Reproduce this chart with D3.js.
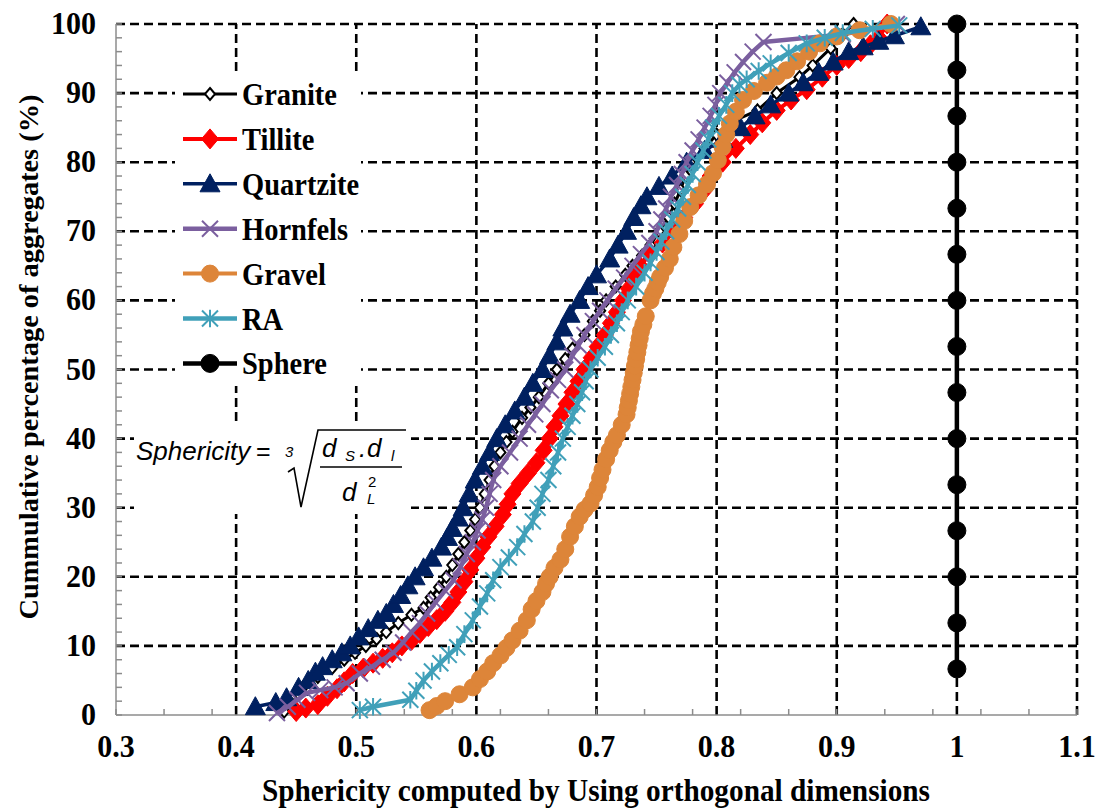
<!DOCTYPE html>
<html><head><meta charset="utf-8">
<script src="https://cdn.jsdelivr.net/npm/d3@7/dist/d3.min.js"></script>
<style>body{margin:0;background:#fff}svg{display:block}</style>
</head><body>
<svg id="c" width="1099" height="811"></svg>
<script>
// ---------------- DATA ----------------
const seriesNames = ["Granite","Tillite","Quartzite","Hornfels","Gravel","RA","Sphere"];

const granite = [[0.44,0.5],[0.447,1.5],[0.452,3],[0.458,4.5],[0.468,5.5],[0.48,6.8],[0.49,8],[0.499,9],[0.508,10],[0.517,11],[0.525,12],[0.535,13.3],[0.546,14.5],[0.556,15.5],[0.562,17],[0.569,18.5],[0.575,20],[0.58,21.7],[0.585,23.3],[0.59,25],[0.595,26.7],[0.599,28.3],[0.603,30],[0.607,32],[0.611,34],[0.615,36],[0.62,38],[0.625,39.5],[0.63,41],[0.638,43],[0.645,44.5],[0.652,46],[0.66,48],[0.667,50],[0.674,51.5],[0.68,53],[0.69,55],[0.697,57],[0.703,58.5],[0.708,60],[0.716,62],[0.724,63.7],[0.73,65],[0.738,66.5],[0.745,68],[0.752,70],[0.76,72],[0.765,74],[0.77,76],[0.774,78],[0.778,80],[0.79,82],[0.8,84],[0.815,86],[0.834,87.5],[0.85,90],[0.869,92.3],[0.88,94],[0.895,96.5],[0.905,98.5],[0.914,100]];

const tillite = [[0.45,0.5],[0.458,1],[0.468,1.5],[0.476,2.7],[0.484,3.8],[0.49,4.8],[0.497,6],[0.506,6.8],[0.514,7.5],[0.522,8.2],[0.53,9],[0.538,10],[0.546,10.8],[0.553,11.8],[0.56,12.8],[0.567,13.8],[0.574,15],[0.58,16.3],[0.585,17.8],[0.59,19.3],[0.595,21],[0.6,22.7],[0.605,24.3],[0.61,25.8],[0.616,27.3],[0.622,29],[0.626,30.5],[0.63,32],[0.636,33.5],[0.643,35],[0.65,36.5],[0.656,38.3],[0.661,40],[0.665,41.7],[0.67,43.3],[0.675,45],[0.68,46.7],[0.685,48.3],[0.69,50],[0.696,51.7],[0.701,53.3],[0.707,55],[0.712,56.7],[0.717,58.3],[0.722,60],[0.727,61.7],[0.731,63.3],[0.736,65],[0.745,66.7],[0.755,68.3],[0.765,70],[0.773,72],[0.782,74],[0.79,76],[0.795,78],[0.805,80],[0.816,82],[0.828,84],[0.838,85.7],[0.85,87.5],[0.862,89],[0.875,90.5],[0.888,92.3],[0.9,94],[0.91,95],[0.92,96],[0.928,97],[0.935,98],[0.942,100]];

const quartzite = [[0.416,1.2],[0.433,1.8],[0.442,2.5],[0.452,4],[0.46,5],[0.466,6.2],[0.472,7],[0.48,8],[0.488,9],[0.495,10],[0.502,11.3],[0.51,12.5],[0.518,13.7],[0.525,14.7],[0.531,16],[0.537,17.3],[0.543,18.7],[0.549,20],[0.556,21.3],[0.563,22.7],[0.571,24.3],[0.576,25.7],[0.58,27],[0.585,28.5],[0.589,30],[0.594,32],[0.599,34],[0.605,36],[0.611,38],[0.617,40],[0.624,42],[0.632,44],[0.64,46],[0.647,48],[0.655,50],[0.661,52],[0.667,54],[0.672,56],[0.678,58],[0.686,60],[0.693,62],[0.7,63.7],[0.711,66],[0.718,68],[0.725,70],[0.731,72],[0.737,73.7],[0.742,75],[0.752,76.5],[0.763,78],[0.775,80],[0.79,81.7],[0.805,83.3],[0.82,85],[0.832,86.7],[0.845,88.3],[0.86,90],[0.872,91.5],[0.885,93],[0.897,94.5],[0.91,96],[0.922,96.7],[0.935,97.5],[0.948,98.3],[0.97,99.6]];

const hornfels = [[0.434,0.3],[0.443,1.2],[0.451,2.2],[0.459,3.2],[0.47,3.6],[0.482,4],[0.492,4.6],[0.503,6],[0.513,7],[0.522,8],[0.531,9],[0.539,10.5],[0.546,12],[0.553,13.3],[0.559,14.7],[0.566,16.3],[0.574,18],[0.581,19.5],[0.587,21.5],[0.592,23.3],[0.597,25],[0.601,26.7],[0.605,28.3],[0.608,30],[0.611,32],[0.614,34],[0.62,36],[0.628,38],[0.636,40],[0.643,42],[0.649,43.5],[0.655,45],[0.662,47],[0.668,48.5],[0.674,50],[0.68,52],[0.685,53.5],[0.69,55],[0.697,57],[0.703,58.5],[0.709,60],[0.716,61.7],[0.723,63.3],[0.73,65],[0.737,66.7],[0.744,68.3],[0.75,70],[0.754,71.7],[0.758,73.3],[0.762,75],[0.767,76.7],[0.771,78.3],[0.775,80],[0.78,81.7],[0.785,83.3],[0.79,85],[0.795,86.7],[0.799,88.3],[0.803,90],[0.809,91.5],[0.815,93],[0.822,94.5],[0.83,96],[0.839,97.4],[0.905,98.5],[0.95,100]];

const gravel = [[0.561,0.7],[0.567,1.3],[0.574,2],[0.586,3],[0.597,4],[0.603,5.2],[0.609,6.3],[0.614,7.5],[0.62,8.6],[0.625,9.7],[0.63,10.8],[0.636,12.2],[0.642,13.7],[0.646,15.3],[0.65,16.5],[0.655,17.8],[0.658,19],[0.661,20],[0.665,21.3],[0.67,22.5],[0.674,24],[0.678,25.8],[0.682,27.3],[0.686,28.7],[0.69,29.7],[0.695,30.6],[0.698,31.8],[0.701,33],[0.703,34.3],[0.705,35.5],[0.708,37],[0.711,38.3],[0.714,39.5],[0.717,40.5],[0.721,42],[0.725,43.5],[0.726,44.5],[0.727,45.5],[0.728,46.5],[0.729,47.5],[0.73,48.5],[0.731,49.5],[0.732,50.5],[0.733,51.5],[0.734,52.5],[0.735,53.5],[0.736,54.5],[0.737,55.5],[0.739,56.5],[0.741,57.7],[0.745,60],[0.747,61],[0.749,61.7],[0.751,62.6],[0.753,63.4],[0.757,64.7],[0.761,66],[0.764,67.7],[0.769,69.6],[0.773,71.5],[0.778,73.5],[0.785,75.2],[0.792,76.8],[0.797,78.4],[0.801,80.3],[0.805,82.2],[0.808,84],[0.811,85.6],[0.816,87.3],[0.822,89],[0.831,90.3],[0.842,91.5],[0.85,92.4],[0.858,93.3],[0.867,94.6],[0.877,96],[0.886,97.2],[0.9,98.2],[0.919,99.1],[0.945,100]];

const ra = [[0.503,0.7],[0.514,1.2],[0.545,2.2],[0.55,3.5],[0.556,5],[0.563,6.3],[0.57,7.5],[0.577,8.7],[0.584,9.8],[0.59,11.7],[0.597,13.7],[0.603,15.7],[0.609,17.6],[0.614,19.5],[0.62,21.4],[0.627,22.8],[0.634,24.3],[0.64,26.2],[0.647,28],[0.651,30],[0.655,32],[0.66,34],[0.664,36],[0.668,38],[0.672,40],[0.676,41.7],[0.68,43.3],[0.684,45],[0.688,46.7],[0.691,48.3],[0.695,50],[0.701,51.7],[0.707,53.3],[0.712,55],[0.717,56.7],[0.721,58.3],[0.726,60],[0.733,62],[0.74,64],[0.745,65.5],[0.75,67],[0.754,68.5],[0.758,70],[0.763,71.7],[0.768,73.3],[0.772,75],[0.776,76.7],[0.78,78.3],[0.784,80],[0.789,81.7],[0.793,83.3],[0.797,85],[0.802,86.7],[0.808,88.3],[0.813,90],[0.819,91.2],[0.825,92],[0.835,93.2],[0.845,94.3],[0.86,95.8],[0.875,97.2],[0.89,98],[0.905,98.7],[0.93,99.3],[0.952,99.8]];

const sphere = [[1,6.67],[1,13.33],[1,20],[1,26.67],[1,33.33],[1,40],[1,46.67],[1,53.33],[1,60],[1,66.67],[1,73.33],[1,80],[1,86.67],[1,93.33],[1,100]];

const xTickValues = [0.3,0.4,0.5,0.6,0.7,0.8,0.9,1.0,1.1];
const xTickLabels = ["0.3","0.4","0.5","0.6","0.7","0.8","0.9","1","1.1"];
const yTickValues = [0,10,20,30,40,50,60,70,80,90,100];
const yTickLabels = ["0","10","20","30","40","50","60","70","80","90","100"];
const xTitle = "Sphericity computed by Using orthogonal dimensions";
const yTitle = "Cummulative percentage of aggregates (%)";

// ---------------- STYLE ----------------
const styles = {
  Granite:  {data: granite,  color:"#000000", lw:3,   marker:"diamond",  r:6,  fill:"#ffffff", mstroke:"#000", msw:2},
  Tillite:  {data: tillite,  color:"#ff0000", lw:4,   marker:"diamond",  r:10, fill:"#ff0000", mstroke:"#ff0000", msw:1},
  Quartzite:{data: quartzite,color:"#002060", lw:3.5, marker:"triangle", r:10, fill:"#002060", mstroke:"#002060", msw:1},
  Hornfels: {data: hornfels, color:"#7b5f9f", lw:4.5, marker:"x",        r:8,  fill:"none",    mstroke:"#7b5f9f", msw:2},
  Gravel:   {data: gravel,   color:"#dd8539", lw:4,   marker:"circle",   r:8.5,fill:"#dd8539", mstroke:"#dd8539", msw:1},
  RA:       {data: ra,       color:"#40a0b9", lw:4.5, marker:"star",     r:8,  fill:"none",    mstroke:"#40a0b9", msw:2},
  Sphere:   {data: sphere,   color:"#000000", lw:4.5, marker:"circle",   r:9,  fill:"#000000", mstroke:"#000", msw:1}
};

const W = 1099, H = 811;
const svg = d3.select("#c");
const x = d3.scaleLinear().domain([0.3,1.1]).range([116,1077]);
const y = d3.scaleLinear().domain([0,100]).range([715,24]);
const serif = "'Liberation Serif','Times New Roman',serif";

svg.append("rect").attr("width",W).attr("height",H).attr("fill","#fff");

// grid
const grid = svg.append("g");
grid.selectAll("line.gx").data(xTickValues.slice(1)).join("line")
  .attr("x1",d=>x(d)).attr("x2",d=>x(d)).attr("y1",y(0)).attr("y2",y(100))
  .attr("stroke","#000").attr("stroke-width",2.6).attr("stroke-dasharray","9,5");
grid.selectAll("line.gy").data(yTickValues.slice(1)).join("line")
  .attr("y1",d=>y(d)).attr("y2",d=>y(d)).attr("x1",x(0.3)).attr("x2",x(1.1))
  .attr("stroke","#000").attr("stroke-width",2.6).attr("stroke-dasharray","9,5");

// axes (gray with inward minor ticks)
const ax = svg.append("g").attr("stroke","#8c8c8c").attr("stroke-width",1.5);
ax.append("line").attr("x1",x(0.3)).attr("x2",x(1.1)).attr("y1",y(0)).attr("y2",y(0));
ax.append("line").attr("x1",x(0.3)).attr("x2",x(0.3)).attr("y1",y(0)).attr("y2",y(100));
const xMinor = d3.range(0,21).map(k=>0.3+0.04*k);
ax.selectAll("line.mx").data(xMinor).join("line")
  .attr("x1",d=>x(d)).attr("x2",d=>x(d)).attr("y1",y(0)).attr("y2",y(0)-6);
const yMinor = d3.range(0,51).map(k=>2*k);
ax.selectAll("line.my").data(yMinor).join("line")
  .attr("y1",d=>y(d)).attr("y2",d=>y(d)).attr("x1",x(0.3)).attr("x2",x(0.3)+6);

// tick labels
svg.append("g").selectAll("text").data(xTickValues).join("text")
  .attr("transform",d=>`translate(${x(d)},757) scale(1,1.08)`).attr("text-anchor","middle")
  .attr("font-family",serif).attr("font-weight","bold").attr("font-size",30)
  .text((d,i)=>xTickLabels[i]);
svg.append("g").selectAll("text").data(yTickValues).join("text")
  .attr("transform",d=>`translate(96,${y(d)+10}) scale(1,1.08)`).attr("text-anchor","end")
  .attr("font-family",serif).attr("font-weight","bold").attr("font-size",30)
  .text((d,i)=>yTickLabels[i]);

// axis titles
svg.append("text").attr("transform",`translate(596,801) scale(1,1.1)`).attr("text-anchor","middle")
  .attr("font-family",serif).attr("font-weight","bold").attr("font-size",29)
  .attr("textLength",668).attr("lengthAdjust","spacingAndGlyphs")
  .text(xTitle);
svg.append("text").attr("transform",`translate(38,357) rotate(-90)`)
  .attr("text-anchor","middle")
  .attr("font-family",serif).attr("font-weight","bold").attr("font-size",28)
  .attr("textLength",525).attr("lengthAdjust","spacingAndGlyphs")
  .text(yTitle);

// marker paths
function markerPath(type, r){
  switch(type){
    case "diamond": return `M0,${-r}L${r*0.85},0L0,${r}L${-r*0.85},0Z`;
    case "triangle": return `M0,${-r}L${r},${r*0.8}L${-r},${r*0.8}Z`;
    case "circle": return `M${r},0A${r},${r} 0 1,1 ${-r},0A${r},${r} 0 1,1 ${r},0Z`;
    case "x": return `M${-r},${-r}L${r},${r}M${-r},${r}L${r},${-r}`;
    case "star": return `M${-r},${-r}L${r},${r}M${-r},${r}L${r},${-r}M0,${-r*1.1}L0,${r*1.1}`;
  }
}

const line = d3.line().x(d=>x(d[0])).y(d=>y(d[1]));
const plot = svg.append("g");
seriesNames.forEach(name=>{
  const s = styles[name];
  const g = plot.append("g");
  g.append("path").attr("d",line(s.data)).attr("fill","none")
    .attr("stroke",s.color).attr("stroke-width",s.lw).attr("stroke-linejoin","round");
  g.selectAll("path.m").data(s.data).join("path")
    .attr("transform",d=>`translate(${x(d[0])},${y(d[1])})`)
    .attr("d",markerPath(s.marker,s.r))
    .attr("fill",s.fill).attr("stroke",s.mstroke).attr("stroke-width",s.msw);
});

// legend
const lg = svg.append("g");
lg.append("rect").attr("x",175).attr("y",73).attr("width",186).attr("height",313).attr("fill","#fff");
seriesNames.forEach((name,i)=>{
  const s = styles[name];
  const cy = 94 + i*44.9;
  lg.append("line").attr("x1",183).attr("x2",237).attr("y1",cy).attr("y2",cy)
    .attr("stroke",s.color).attr("stroke-width",s.lw);
  lg.append("path").attr("transform",`translate(210,${cy})`).attr("d",markerPath(s.marker,s.r))
    .attr("fill",s.fill).attr("stroke",s.mstroke).attr("stroke-width",s.msw);
  lg.append("text").attr("transform",`translate(242,${cy+11}) scale(1,1.12)`)
    .attr("font-family",serif).attr("font-weight","bold").attr("font-size",28.5)
    .text(name);
});

// formula box
const fb = svg.append("g");
const sans = "'Liberation Sans',Arial,sans-serif";
fb.append("rect").attr("x",134).attr("y",423).attr("width",277).attr("height",91).attr("fill","#fff");
function ft(tx,ty,t,size,italic){
  fb.append("text").attr("x",tx).attr("y",ty).attr("font-family",sans)
    .attr("font-style",italic?"italic":"normal").attr("font-size",size).text(t);
}
ft(136,460,"Sphericity",26,true);
ft(256,460,"=",25,false);
ft(285,457,"3",15,true);
fb.append("path").attr("d","M288,472L294,468L301,507L318,430L406,430")
  .attr("fill","none").attr("stroke","#000").attr("stroke-width",1.6);
ft(322,457,"d",26,true);
ft(345,461,"S",15,true);
ft(359,457,".",26,true);
ft(367,457,"d",26,true);
ft(391,461,"l",15,true);
fb.append("line").attr("x1",320).attr("x2",402).attr("y1",467).attr("y2",467)
  .attr("stroke","#000").attr("stroke-width",1.6);
ft(342,501,"d",26,true);
ft(368,487,"2",15,false);
ft(367,504,"L",15,true);
</script>
</body></html>
